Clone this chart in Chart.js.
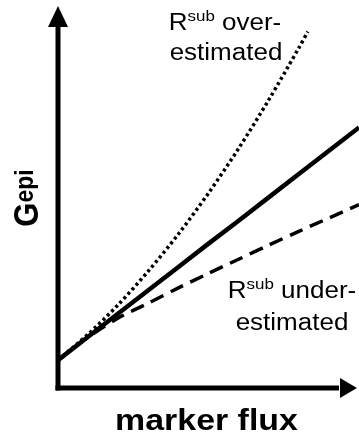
<!DOCTYPE html>
<html>
<head>
<meta charset="utf-8">
<script src="https://cdn.jsdelivr.net/npm/chart.js@4/dist/chart.umd.min.js"></script>
<style>
  html, body { margin: 0; padding: 0; background: #fff; }
  #c { display: block; }
</style>
</head>
<body>
<canvas id="c" width="359" height="432"></canvas>
<script>
// ---- data (arbitrary units) ----
const fluxTrue  = [0, 1, 2, 3, 4, 5, 6, 7, 8, 9, 10];
const gTrue     = [0.73, 1.34, 1.95, 2.56, 3.17, 3.78, 4.38, 4.99, 5.60, 6.21, 6.82];
const fluxOver  = [0, 1, 2, 3, 4, 5, 6, 7, 8, 8.3];
const gOver     = [0.73, 1.41, 2.18, 3.06, 4.03, 5.10, 6.27, 7.54, 8.90, 9.33];
const fluxUnder = [0, 1, 2, 3, 4, 5, 6, 7, 8, 9, 10];
const gUnder    = [0.73, 1.33, 1.83, 2.22, 2.62, 3.00, 3.37, 3.74, 4.10, 4.45, 4.80];
const xTitle = "marker flux";
const yTitleMain = "G";
const yTitleSup = "epi";
const overLabel = ["R", "sub", " over-", "estimated"];
const underLabel = ["R", "sub", " under-", "estimated"];

const toPts = (xs, ys) => xs.map((x, i) => ({ x: x, y: ys[i] }));

const FONT = '"Liberation Sans", Arial, Helvetica, sans-serif';
const STRETCH = 1.13;

function drawRichLine(ctx, parts, cx, baseline, size, supSize) {
  ctx.font = size + 'px ' + FONT;
  const w0 = ctx.measureText(parts[0]).width;
  const w2 = ctx.measureText(parts[2]).width;
  ctx.font = supSize + 'px ' + FONT;
  const w1 = ctx.measureText(parts[1]).width;
  const total = (w0 + w1 + w2);
  ctx.save();
  ctx.translate(cx, baseline);
  ctx.scale(STRETCH, 1);
  let x = -total / 2;
  ctx.textBaseline = 'alphabetic';
  ctx.textAlign = 'left';
  ctx.font = size + 'px ' + FONT;
  ctx.fillText(parts[0], x, 0); x += w0;
  ctx.font = supSize + 'px ' + FONT;
  ctx.fillText(parts[1], x, -(size * 0.716 - supSize * 0.519)); x += w1;
  ctx.font = size + 'px ' + FONT;
  ctx.fillText(parts[2], x, 0);
  ctx.restore();
}
function drawCentered(ctx, text, cx, baseline, font) {
  ctx.save();
  ctx.translate(cx, baseline);
  ctx.scale(STRETCH, 1);
  ctx.font = font;
  ctx.textAlign = 'center';
  ctx.textBaseline = 'alphabetic';
  ctx.fillText(text, 0, 0);
  ctx.restore();
}

const decor = {
  id: 'decor',
  afterDraw(chart) {
    const ctx = chart.ctx;
    const xs = chart.scales.x, ys = chart.scales.y;
    const a = chart.chartArea;
    const x0 = xs.getPixelForValue(0);
    const y0 = ys.getPixelForValue(0);
    ctx.save();
    ctx.fillStyle = '#000';
    ctx.strokeStyle = '#000';
    ctx.lineWidth = 5;
    ctx.lineCap = 'butt';
    // y axis
    ctx.beginPath();
    ctx.moveTo(x0, y0 + 2.5);
    ctx.lineTo(x0, a.top + 18);
    ctx.stroke();
    ctx.beginPath();
    ctx.moveTo(x0, a.top);
    ctx.lineTo(x0 - 10, a.top + 21);
    ctx.lineTo(x0 + 10, a.top + 21);
    ctx.closePath();
    ctx.fill();
    // x axis
    const xr = a.right - 2;
    ctx.beginPath();
    ctx.moveTo(x0 - 2.5, y0);
    ctx.lineTo(xr - 18, y0);
    ctx.stroke();
    ctx.beginPath();
    ctx.moveTo(xr, y0);
    ctx.lineTo(xr - 17, y0 - 10);
    ctx.lineTo(xr - 17, y0 + 10);
    ctx.closePath();
    ctx.fill();

    // x title
    drawCentered(ctx, xTitle, (a.left + a.right) / 2 - 2, 430, 'bold 30px ' + FONT);

    // y title (rotated)
    ctx.save();
    const cy = (a.top + a.bottom) / 2 + 1;
    ctx.translate(38, cy);
    ctx.scale(STRETCH, 1);
    ctx.rotate(-Math.PI / 2);
    ctx.font = 'bold 31px ' + FONT;
    const gw = ctx.measureText(yTitleMain).width;
    ctx.font = 'bold 23px ' + FONT;
    const ew = ctx.measureText(yTitleSup).width;
    const tot = gw + ew;
    ctx.textAlign = 'left';
    ctx.textBaseline = 'alphabetic';
    ctx.font = 'bold 31px ' + FONT;
    ctx.fillText(yTitleMain, -tot / 2, 0);
    ctx.font = 'bold 23px ' + FONT;
    ctx.fillText(yTitleSup, -tot / 2 + gw, -4);
    ctx.restore();

    // annotations
    drawRichLine(ctx, overLabel, 225, 30, 23, 15);
    drawCentered(ctx, overLabel[3], 226, 60, '23px ' + FONT);
    drawRichLine(ctx, underLabel, 292, 298, 23, 15);
    drawCentered(ctx, underLabel[3], 292, 330, '23px ' + FONT);
    ctx.restore();
  }
};

new Chart(document.getElementById('c'), {
  type: 'line',
  data: {
    datasets: [
      { label: 'true', data: toPts(fluxTrue, gTrue), borderColor: '#000', borderWidth: 4.5, pointRadius: 0, tension: 0 },
      { label: 'over', data: toPts(fluxOver, gOver), borderColor: '#000', borderWidth: 3.5, borderDash: [3, 3], pointRadius: 0, tension: 0.3 },
      { label: 'under', data: toPts(fluxUnder, gUnder), borderColor: '#000', borderWidth: 3.5, borderDash: [14, 8], pointRadius: 0, tension: 0.3 }
    ]
  },
  options: {
    responsive: false,
    animation: false,
    devicePixelRatio: 1,
    layout: { padding: { left: 58, right: 0, top: 6, bottom: 44 } },
    plugins: { legend: { display: false }, tooltip: { enabled: false }, title: { display: false } },
    scales: {
      x: { type: 'linear', min: 0, max: 10, display: false },
      y: { type: 'linear', min: 0, max: 10, display: false }
    }
  },
  plugins: [decor]
});
</script>
</body>
</html>
